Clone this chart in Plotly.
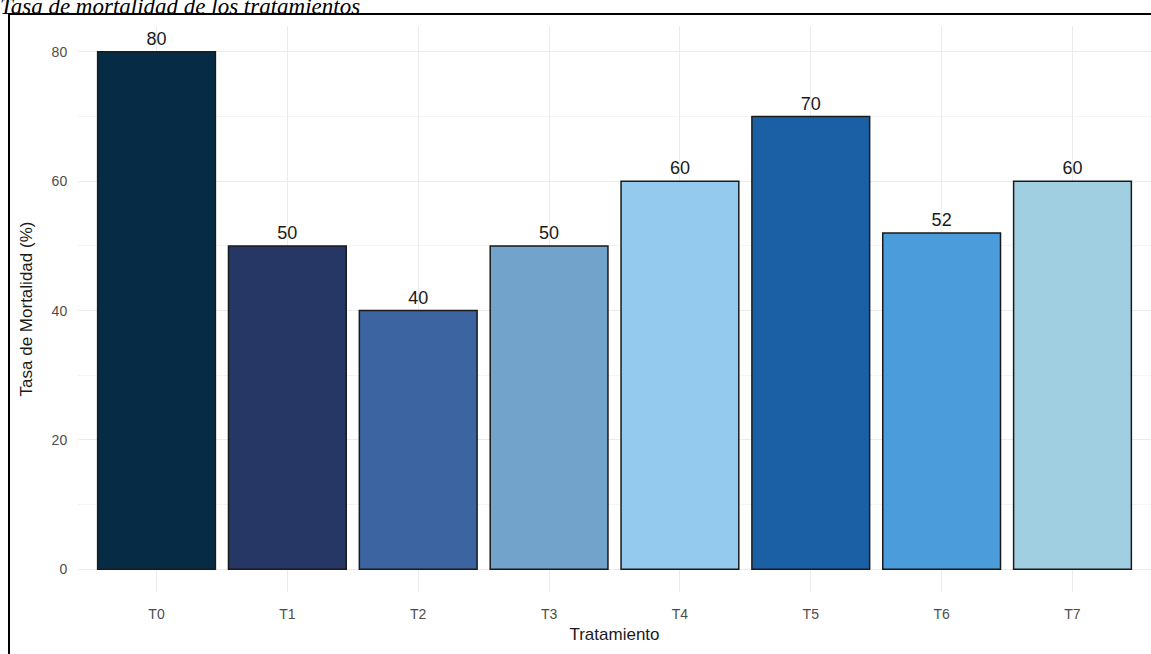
import plotly.graph_objects as go

categories = ["T0", "T1", "T2", "T3", "T4", "T5", "T6", "T7"]
mortality = [80, 50, 40, 50, 60, 70, 52, 60]
bar_colors = ["#062c45", "#263665", "#3b64a0", "#72a3cb", "#95caef", "#1b5fa5", "#4b9cdb", "#9fcfe1"]
y_ticks = [0, 20, 40, 60, 80]

fig = go.Figure()
fig.add_trace(go.Bar(
    x=categories, y=mortality,
    marker=dict(color=bar_colors, line=dict(color="#1a1a1a", width=1.5)),
    text=[str(v) for v in mortality], textposition="outside",
    textfont=dict(family="Liberation Sans, Arial", size=18, color="#1a1a1a"),
    cliponaxis=False, width=0.9,
))

W, H = 1151, 654
ml, mr, mt, mb = 78, 0, 26, 62

fig.update_layout(
    width=W, height=H,
    margin=dict(l=ml, r=mr, t=mt, b=mb, autoexpand=False),
    paper_bgcolor="white", plot_bgcolor="white",
    showlegend=False,
    font=dict(family="Liberation Sans, Arial"),
    xaxis=dict(
        range=[-0.6, 7.6], showgrid=True, gridcolor="#ebebeb", gridwidth=1, automargin=False,
        tickfont=dict(size=14, color="#4d4d4d"), ticks="outside", ticklen=9, tickcolor="rgba(0,0,0,0)",
        zeroline=False, showline=False,
        title=dict(text="Tratamiento", font=dict(size=17, color="#1a1a1a"), standoff=7),
    ),
    yaxis=dict(
        range=[-3.5, 84], tickvals=y_ticks, showgrid=True, gridcolor="#ebebeb", gridwidth=1, automargin=False,
        minor=dict(tickvals=[10, 30, 50, 70], showgrid=True, gridcolor="#f4f4f4", gridwidth=1),
        tickfont=dict(size=14, color="#4d4d4d"), ticks="outside", ticklen=7, tickcolor="rgba(0,0,0,0)",
        zeroline=False, showline=False,
        title=dict(text="Tasa de Mortalidad (%)", font=dict(size=17, color="#1a1a1a"), standoff=14),
    ),
)

ph = H - mt - mb
pw = W - ml - mr

def px_x(p):
    return (p - ml) / pw

def px_y(p):
    return (H - mb - p) / ph

# Border frame (extends beyond the bottom and right edge)
fig.add_shape(type="rect", xref="paper", yref="paper",
              x0=px_x(9), x1=px_x(1160), y0=px_y(670), y1=px_y(14),
              line=dict(color="black", width=2), fillcolor="rgba(0,0,0,0)", layer="above")

# Caption (cut off at the top)
fig.add_annotation(text="<i>Tasa de mortalidad de los tratamientos</i>", xref="paper", yref="paper",
                   x=px_x(-2), y=px_y(7), xanchor="left", yanchor="middle", showarrow=False,
                   font=dict(family="Liberation Serif, Times New Roman", size=23, color="black"))

fig.write_html("out.html", config={"displayModeBar": False},
               post_script="document.body.style.margin='0';document.body.style.overflow='hidden';")
